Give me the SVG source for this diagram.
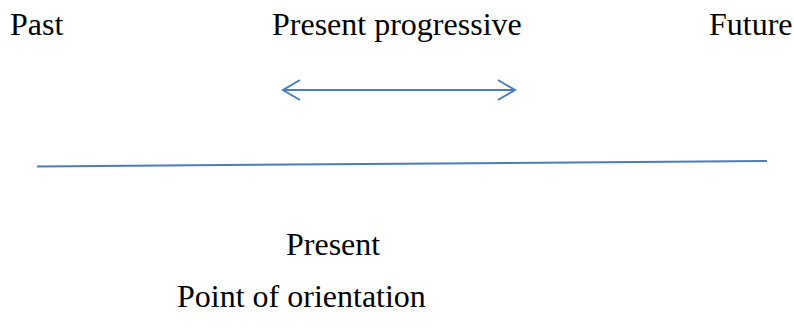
<svg xmlns="http://www.w3.org/2000/svg" width="794" height="332" viewBox="0 0 794 332">
<style>
text{font-family:'Liberation Serif','Times New Roman',serif;font-size:32px;fill:#000}
.ln{stroke:#4a7ebb;stroke-width:2;fill:none}
</style>
<rect width="794" height="332" fill="#fff"/>
<g id="past"><text x="10" y="35">Past</text></g>
<g id="progressive"><text x="272" y="35">Present progressive</text></g>
<g id="future"><text x="709" y="35">Future</text></g>
<g id="present"><text x="286" y="255">Present</text></g>
<g id="orientation"><text x="177" y="307">Point of orientation</text></g>
<g id="connectors">
<line class="ln" x1="283" y1="90" x2="515" y2="90"/>
<polyline class="ln" points="300,80 283,90 300,100"/>
<polyline class="ln" points="498,80 515,90 498,100"/>
<line class="ln" x1="37" y1="166.5" x2="767" y2="161"/>
</g>
</svg>
